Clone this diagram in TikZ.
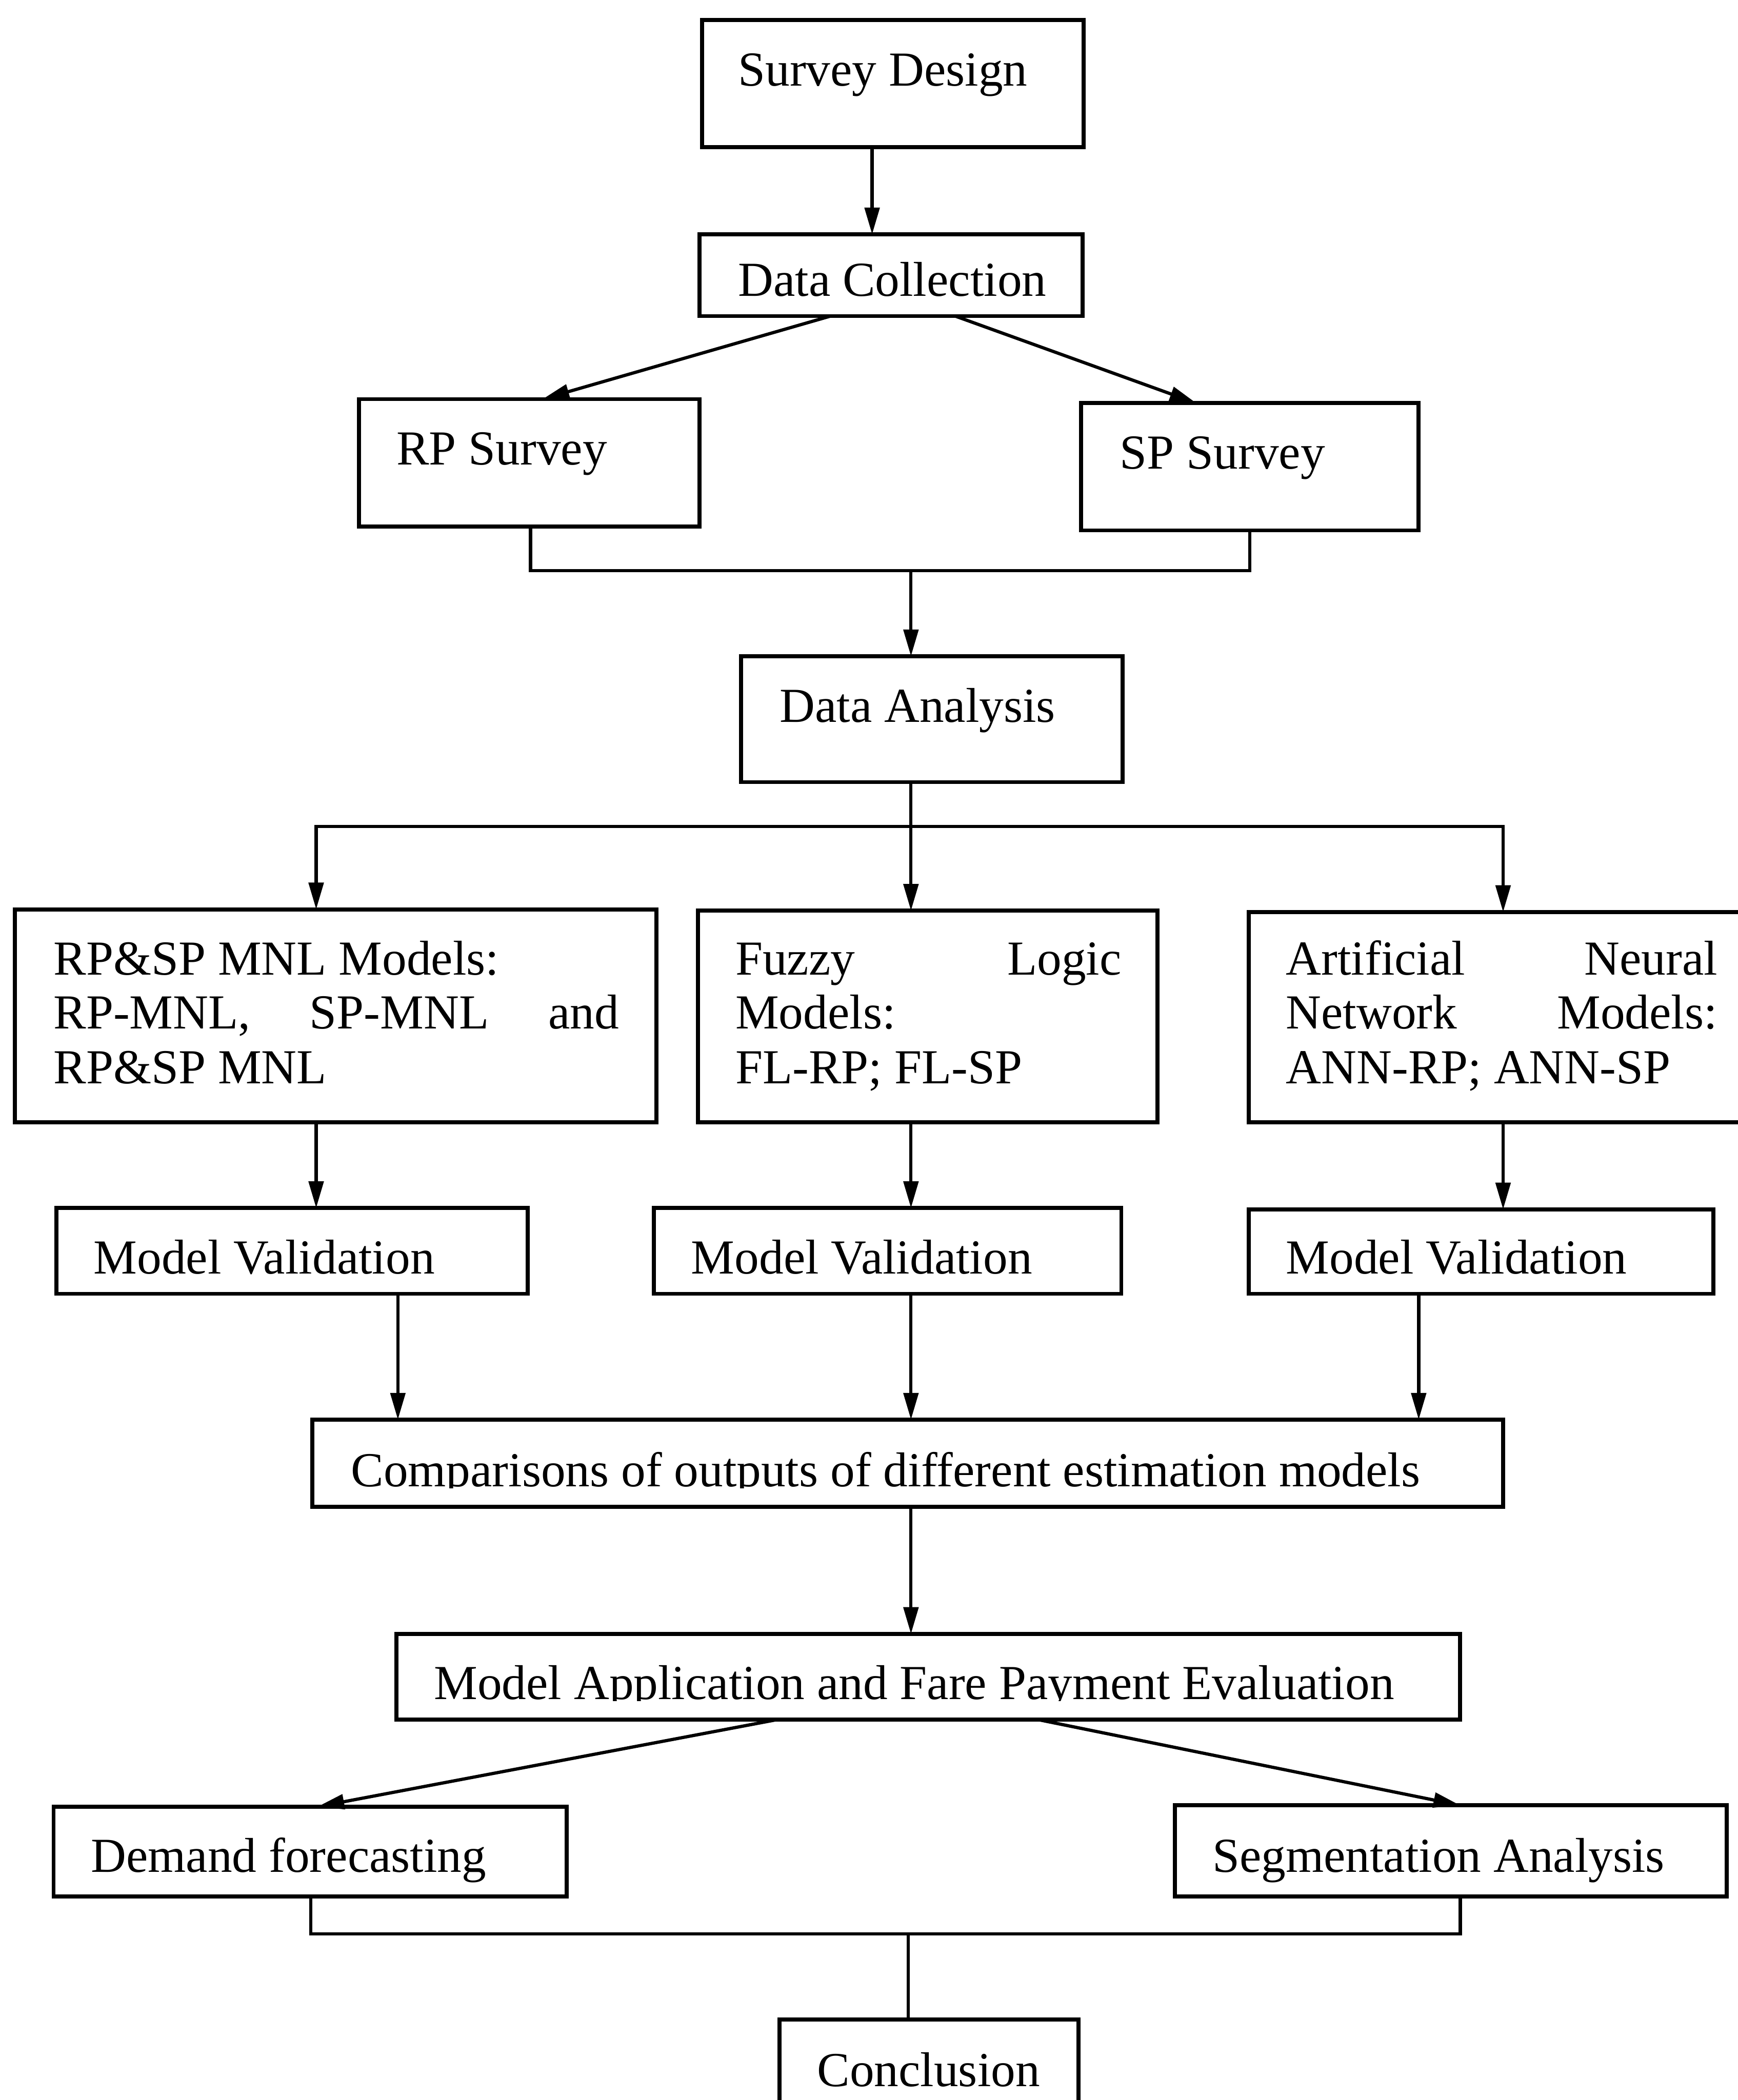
\documentclass[tikz,border=0pt]{standalone}
\usepackage{fontspec}
\setmainfont{Liberation Serif}
\usetikzlibrary{arrows.meta}
\tikzset{
  box/.style={draw, line width=3pt, inner sep=0pt, outer sep=0pt, rectangle},
  lbl/.style={anchor=base west, inner sep=0pt, outer sep=0pt, font=\fontsize{36.5}{40.5}\selectfont},
  conn/.style={line width=2.4pt},
  arr/.style={conn, -{Triangle[length=20pt,width=11pt]}},
}
% box from its corners (x1,y1) to (x2,y2)
\newcommand\flowbox[5]{\node[box, minimum width={#4pt-#2pt}, minimum height={#5pt-#3pt}] (#1) at ({(#2+#4)/2},{(#3+#5)/2}) {};}
\begin{document}
\begin{tikzpicture}[x=1pt, y=-1pt]
\useasboundingbox (0,0) rectangle (1297,1568);

% boxes
\flowbox{sd}{524}{15}{809}{110}
\flowbox{dc}{522}{175}{808}{236}
\flowbox{rp}{268}{298}{522}{393}
\flowbox{sp}{807}{301}{1059}{396}
\flowbox{da}{553}{490}{838}{584}
\flowbox{mnl}{11}{679}{490}{838}
\flowbox{fl}{521}{680}{864}{838}
\flowbox{ann}{932}{681}{1320}{838}
\flowbox{mva}{42}{902}{394}{966}
\flowbox{mvb}{488}{902}{837}{966}
\flowbox{mvc}{932}{903}{1279}{966}
\flowbox{cmp}{233}{1060}{1122}{1125}
\flowbox{app}{296}{1220}{1090}{1284}
\flowbox{df}{40}{1349}{423}{1416}
\flowbox{sa}{877}{1348}{1289}{1416}
\flowbox{cn}{582}{1508}{805}{1610}

% labels
\node[lbl] (sdt) at (551,64) {Survey Design};
\node[lbl] (dct) at (551,221) {Data Collection};
\node[lbl] (rpt) at (296,347) {RP Survey};
\node[lbl] (spt) at (836,350) {SP Survey};
\node[lbl] (dat) at (582,539) {Data Analysis};
\node[lbl] (mnl1) at (40,728) {RP\&SP MNL Models:};
\node[lbl] (mnl2) at (40,768) {\hbox to 422pt{RP-MNL,\hfill SP-MNL\hfill and}};
\node[lbl] (mnl3) at (40,809) {RP\&SP MNL};
\node[lbl] (fl1) at (549,728) {\hbox to 288pt{Fuzzy\hfill Logic}};
\node[lbl] (fl2) at (549,768) {Models:};
\node[lbl] (fl3) at (549,809) {FL-RP; FL-SP};
\node[lbl] (ann1) at (960,728) {\hbox to 322pt{Artificial\hfill Neural}};
\node[lbl] (ann2) at (960,768) {\hbox to 322pt{Network\hfill Models:}};
\node[lbl] (ann3) at (960,809) {ANN-RP; ANN-SP};
\node[lbl] (mvat) at (70,951) {Model Validation};
\node[lbl] (mvbt) at (516,951) {Model Validation};
\node[lbl] (mvct) at (960,951) {Model Validation};
\begin{scope}
  \clip (233,1060) rectangle (1122,1111);
  \node[lbl] (cmpt) at (262,1110) {Comparisons of outputs of different estimation models};
\end{scope}
\begin{scope}
  \clip (296,1220) rectangle (1090,1270);
  \node[lbl] (appt) at (324,1269) {Model Application and Fare Payment Evaluation};
\end{scope}
\node[lbl] (dft) at (68,1398) {Demand forecasting};
\node[lbl] (sat) at (905,1398) {Segmentation Analysis};
\node[lbl] (cnt) at (610,1558) {Conclusion};

% connector columns and junctions
\coordinate (c651) at (651,0);
\coordinate (c620) at (620,0);
\coordinate (c405) at (405,0);
\coordinate (c713) at (713,0);
\coordinate (c893) at (893,0);
\coordinate (c396) at (396,0);
\coordinate (c933) at (933,0);
\coordinate (c680) at (680,0);
\coordinate (c236) at (236,0);
\coordinate (c1122) at (1122,0);
\coordinate (c297) at (297,0);
\coordinate (c1059) at (1059,0);
\coordinate (c580) at (580,0);
\coordinate (c237) at (237,0);
\coordinate (c775) at (775,0);
\coordinate (c1090) at (1090,0);
\coordinate (c232) at (232,0);
\coordinate (c678) at (678,0);
\coordinate (j1) at (680,426);
\coordinate (j2) at (680,617);
\coordinate (j3) at (678,1444);

% connectors
\draw[arr] (sd.south -| c651) -- (dc.north -| c651);
\draw[arr] (dc.south -| c620) -- (rp.north -| c405);
\draw[arr] (dc.south -| c713) -- (sp.north -| c893);
\draw[conn] (rp.south -| c396) |- (j1) -| (sp.south -| c933);
\draw[arr] (j1) -- (da.north -| c680);
\draw[conn] (da.south -| c680) -- (j2);
\draw[arr] (j2) -- (fl.north -| c680);
\draw[arr] (j2) -| (mnl.north -| c236);
\draw[arr] (j2) -| (ann.north -| c1122);
\draw[arr] (mnl.south -| c236) -- (mva.north -| c236);
\draw[arr] (fl.south -| c680) -- (mvb.north -| c680);
\draw[arr] (ann.south -| c1122) -- (mvc.north -| c1122);
\draw[arr] (mva.south -| c297) -- (cmp.north -| c297);
\draw[arr] (mvb.south -| c680) -- (cmp.north -| c680);
\draw[arr] (mvc.south -| c1059) -- (cmp.north -| c1059);
\draw[arr] (cmp.south -| c680) -- (app.north -| c680);
\draw[arr] (app.south -| c580) -- (df.north -| c237);
\draw[arr] (app.south -| c775) -- (sa.north -| c1090);
\draw[conn] (df.south -| c232) |- (j3) -| (sa.south -| c1090);
\draw[conn] (j3) -- (cn.north -| c678);
\end{tikzpicture}
\end{document}
